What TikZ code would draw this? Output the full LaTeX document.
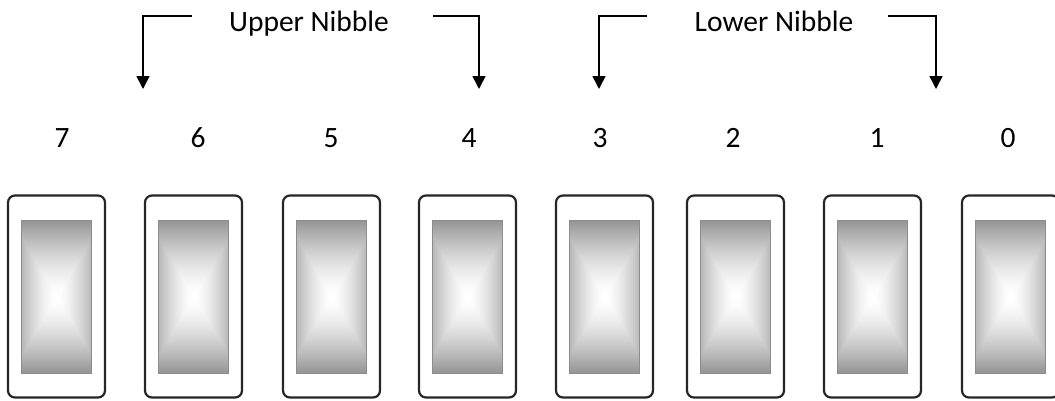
\documentclass[tikz,border=0pt]{standalone}
\usepackage{fontspec}
\setmainfont{Carlito}
\usetikzlibrary{arrows.meta}
\pgfdeclarefunctionalshading{boxshade}{\pgfpoint{0bp}{0bp}}{\pgfpoint{100bp}{100bp}}{}{
  50 sub abs 25 div dup sqrt mul 0.42 mul exch 50 sub abs 25 div dup sqrt mul 0.28 mul
  2 copy lt {exch} if pop
  1 exch sub dup 0 lt {pop 0} if
  dup dup
}
\tikzset{
  outerbox/.style={draw=black!85, line width=2.2pt, rounded corners=7pt, fill=white, minimum width=97pt, minimum height=202pt, inner sep=0pt},
  innerbox/.style={draw=black!45, line width=0.8pt, shading=boxshade, minimum width=70pt, minimum height=153pt, inner sep=0pt},
  lbl/.style={font=\fontsize{29.5}{34}\selectfont, inner sep=0pt, anchor=base},
  conn/.style={line width=1.6pt, -{Triangle[width=13pt,length=13pt]}},
}
\begin{document}
\begin{tikzpicture}[x=1pt,y=-1pt]
\useasboundingbox (0,0) rectangle (1055,400);
\clip (0,0) rectangle (1055,400);
\foreach \b/\l/\d in {7/8/62, 6/145/198, 5/283/331, 4/419/469, 3/556/600, 2/687/733, 1/824/877, 0/962/1008} {
  \node[outerbox] (sw\b) at (\l+48.5, 296.5) {};
  \node[innerbox] (in\b) at (\l+48.5, 296.5) {};
  \node[lbl] (n\b) at (\d, 147) {\b};
}
\node[lbl] (upper) at (309, 31) {Upper Nibble};
\node[lbl] (lower) at (774, 31) {Lower Nibble};
\coordinate (u1) at (192,16);
\coordinate (u1c) at (143,16);
\coordinate (u1e) at (143,89);
\coordinate (u2) at (433,16);
\coordinate (u2c) at (479,16);
\coordinate (u2e) at (479,89);
\coordinate (l1) at (647,16);
\coordinate (l1c) at (599,16);
\coordinate (l1e) at (599,89);
\coordinate (l2) at (888,16);
\coordinate (l2c) at (936,16);
\coordinate (l2e) at (936,89);
\draw[conn] (u1) -- (u1c) -- (u1e);
\draw[conn] (u2) -- (u2c) -- (u2e);
\draw[conn] (l1) -- (l1c) -- (l1e);
\draw[conn] (l2) -- (l2c) -- (l2e);
\end{tikzpicture}
\end{document}
